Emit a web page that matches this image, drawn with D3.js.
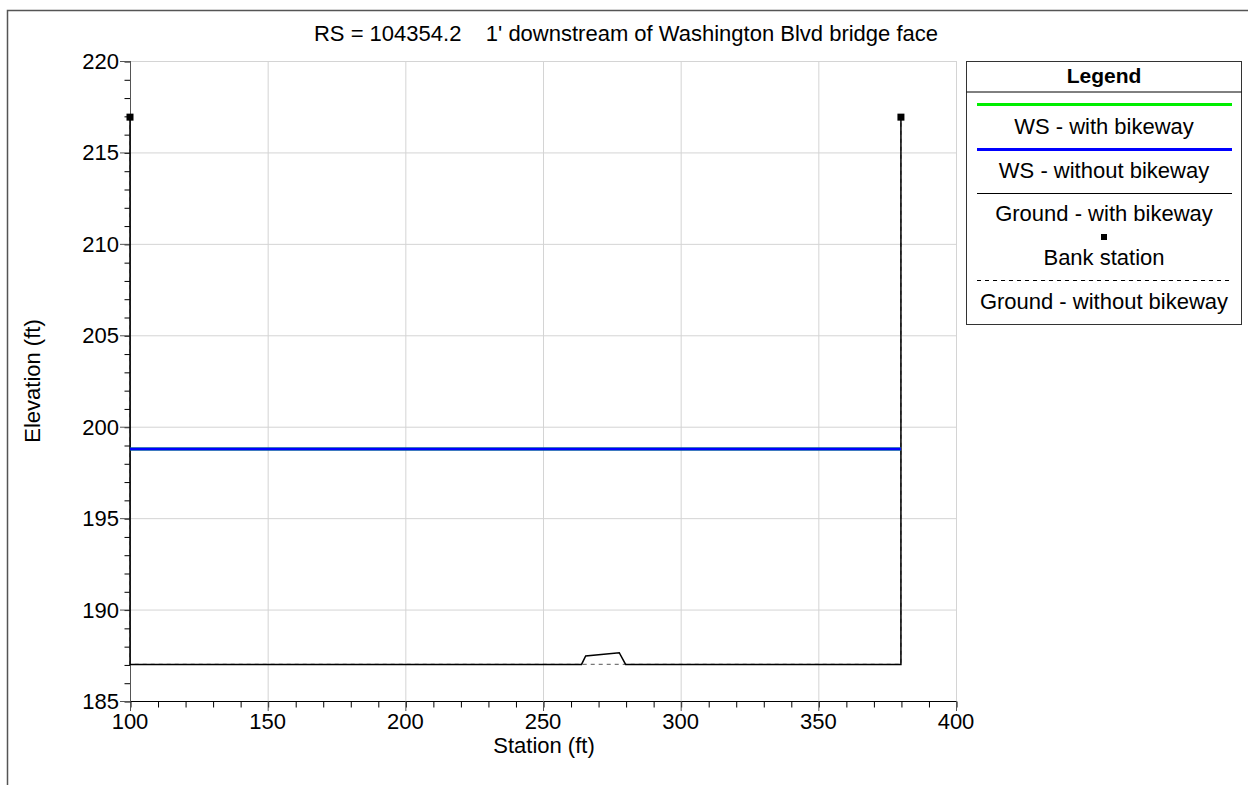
<!DOCTYPE html>
<html>
<head>
<meta charset="utf-8">
<script src="https://cdn.jsdelivr.net/npm/d3@7"></script>
<style>
  body { margin: 0; background: #fff; }
  text { font-family: "Liberation Sans", Arial, sans-serif; fill: #000; }
</style>
</head>
<body>
<script>
// cross section values
const xTicks = [100, 150, 200, 250, 300, 350, 400];
const yTicks = [185, 190, 195, 200, 205, 210, 215, 220];

const groundWith = [[100, 216.93], [100, 187], [264, 187], [265.5, 187.46], [277.7, 187.64], [280, 187], [380, 187], [380, 216.93]];
const groundWithout = [[100, 216.93], [100, 187], [380, 187], [380, 216.93]];
const wsWith = [[100, 198.78], [380, 198.78]];
const wsWithout = [[100, 198.78], [380, 198.78]];
const bankStations = [[100, 216.93], [380, 216.93]];

const legendItems = ["WS - with bikeway", "WS - without bikeway", "Ground - with bikeway", "Bank station", "Ground - without bikeway"];

const W = 1248, H = 785;
const m = {left: 130, right: 956, top: 61, bottom: 701};

const svg = d3.select("body").append("svg")
  .attr("width", W)
  .attr("height", H);

// outer frame (left + top only visible)
svg.append("path")
  .attr("d", `M7.5,${H} L7.5,10.5 L${W},10.5`)
  .attr("fill", "none")
  .attr("stroke", "#555")
  .attr("stroke-width", 1.5);

const x = d3.scaleLinear().domain([100, 400]).range([m.left, m.right]);
const y = d3.scaleLinear().domain([185, 220]).range([m.bottom, m.top]);

// grid
svg.append("g").selectAll("line")
  .data(xTicks)
  .enter().append("line")
  .attr("x1", d => x(d) + 0.5).attr("x2", d => x(d) + 0.5)
  .attr("y1", m.top).attr("y2", m.bottom)
  .attr("stroke", "#d4d4d4");
svg.append("g").selectAll("line")
  .data(yTicks)
  .enter().append("line")
  .attr("x1", m.left).attr("x2", m.right)
  .attr("y1", d => y(d) + 0.5).attr("y2", d => y(d) + 0.5)
  .attr("stroke", "#d4d4d4");

// axes
const xAxis = svg.append("g")
  .attr("transform", `translate(0.5,${m.bottom + 0.5})`)
  .call(d3.axisBottom(x).tickValues(d3.range(100, 401, 10)).tickSize(6).tickFormat(""));
xAxis.select(".domain").remove();
svg.append("line")
  .attr("x1", m.left).attr("x2", m.right)
  .attr("y1", m.bottom + 0.5).attr("y2", m.bottom + 0.5)
  .attr("stroke", "#000");
svg.append("g").selectAll("line")
  .data(xTicks)
  .enter().append("line")
  .attr("x1", d => x(d) + 0.5).attr("x2", d => x(d) + 0.5)
  .attr("y1", m.bottom).attr("y2", m.bottom + 10)
  .attr("stroke", "#555");
svg.append("g").selectAll("text")
  .data(xTicks)
  .enter().append("text")
  .attr("x", d => x(d))
  .attr("y", m.bottom + 28)
  .attr("text-anchor", "middle")
  .attr("font-size", "22px")
  .text(d => d);

const yAxis = svg.append("g")
  .attr("transform", `translate(${m.left + 0.5},0.5)`)
  .call(d3.axisLeft(y).tickValues(d3.range(185, 221, 1)).tickSize(6).tickFormat(""));
yAxis.select(".domain").remove();
svg.append("line")
  .attr("x1", m.left + 0.5).attr("x2", m.left + 0.5)
  .attr("y1", m.top).attr("y2", m.bottom)
  .attr("stroke", "#555");
svg.append("g").selectAll("line")
  .data(yTicks)
  .enter().append("line")
  .attr("x1", m.left - 10).attr("x2", m.left)
  .attr("y1", d => y(d) + 0.5).attr("y2", d => y(d) + 0.5)
  .attr("stroke", "#555");
svg.append("g").selectAll("text")
  .data(yTicks)
  .enter().append("text")
  .attr("x", m.left - 11)
  .attr("y", d => y(d) + 8)
  .attr("text-anchor", "end")
  .attr("font-size", "22px")
  .text(d => d);

// titles
svg.append("text")
  .attr("x", 626).attr("y", 41)
  .attr("text-anchor", "middle")
  .attr("font-size", "22px")
  .attr("xml:space", "preserve")
  .text("RS = 104354.2    1' downstream of Washington Blvd bridge face");
svg.append("text")
  .attr("x", 544).attr("y", 753)
  .attr("text-anchor", "middle")
  .attr("font-size", "22px")
  .text("Station (ft)");
svg.append("text")
  .attr("transform", "translate(40,381) rotate(-90)")
  .attr("text-anchor", "middle")
  .attr("font-size", "22px")
  .text("Elevation (ft)");

// series
const line = d3.line().x(d => x(d[0])).y(d => y(d[1]));

svg.append("path").datum(groundWithout)
  .attr("d", line).attr("fill", "none")
  .attr("stroke", "#777").attr("stroke-width", 1.2)
  .attr("stroke-dasharray", "4,4");
svg.append("path").datum(groundWith)
  .attr("d", line).attr("fill", "none")
  .attr("stroke", "#000").attr("stroke-width", 1.5);
svg.append("path").datum(wsWith)
  .attr("d", line).attr("fill", "none")
  .attr("stroke", "#00ee00").attr("stroke-width", 3);
svg.append("path").datum(wsWithout)
  .attr("d", line).attr("fill", "none")
  .attr("stroke", "#0000ff").attr("stroke-width", 3);

svg.selectAll("rect.bank")
  .data(bankStations)
  .enter().append("rect")
  .attr("class", "bank")
  .attr("x", d => x(d[0]) - 3.5)
  .attr("y", d => y(d[1]) - 3.5)
  .attr("width", 7).attr("height", 7)
  .attr("fill", "#000");

// legend
const lg = svg.append("g");
const lx = 966.5, lw = 275, ly = 61.5, lh = 263;
lg.append("rect")
  .attr("x", lx).attr("y", ly).attr("width", lw).attr("height", lh)
  .attr("fill", "#fff").attr("stroke", "#333");
lg.append("line")
  .attr("x1", lx).attr("x2", lx + lw).attr("y1", 92).attr("y2", 92)
  .attr("stroke", "#000");
lg.append("text")
  .attr("x", lx + lw / 2).attr("y", 83)
  .attr("text-anchor", "middle")
  .attr("font-size", "21px").attr("font-weight", "bold")
  .text("Legend");

const lcx = lx + lw / 2;
lg.append("line").attr("x1", 977).attr("x2", 1232).attr("y1", 104.5).attr("y2", 104.5)
  .attr("stroke", "#00ee00").attr("stroke-width", 3);
lg.append("line").attr("x1", 977).attr("x2", 1232).attr("y1", 149.5).attr("y2", 149.5)
  .attr("stroke", "#0000ff").attr("stroke-width", 3);
lg.append("line").attr("x1", 977).attr("x2", 1232).attr("y1", 193.5).attr("y2", 193.5)
  .attr("stroke", "#000").attr("stroke-width", 1.2);
lg.append("rect").attr("x", lcx - 3).attr("y", 234).attr("width", 6).attr("height", 6)
  .attr("fill", "#000");
lg.append("line").attr("x1", 977).attr("x2", 1232).attr("y1", 280.5).attr("y2", 280.5)
  .attr("stroke", "#000").attr("stroke-dasharray", "4,4");

const labelY = [134, 178, 221, 265, 309];
lg.selectAll("text.item")
  .data(legendItems)
  .enter().append("text")
  .attr("class", "item")
  .attr("x", lcx)
  .attr("y", (d, i) => labelY[i])
  .attr("text-anchor", "middle")
  .attr("font-size", "22px")
  .text(d => d);
</script>
</body>
</html>
